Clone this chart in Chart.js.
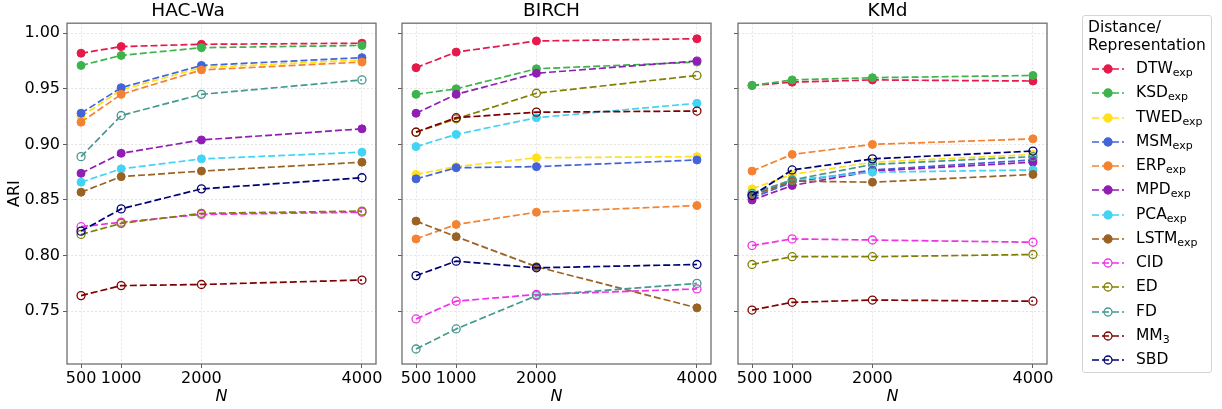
<!DOCTYPE html>
<html>
<head>
<meta charset="utf-8">
<script src="https://cdn.jsdelivr.net/npm/chart.js@4.4.0/dist/chart.umd.min.js"></script>
<style>
    body { margin: 0; background: #fff; width: 1222px; height: 409px; overflow: hidden; font-family: 'DejaVu Sans', sans-serif; }
    canvas { position: absolute; left: 0; top: 0; }
    #legend { position: absolute; left: 1082px; top: 15px; width: 130px; height: 358px; border: 1px solid #d4d4d4; border-radius: 3px; box-sizing: border-box; color: #000; }
    #legend .title { position: absolute; left: 5px; top: 3px; font-size: 15.5px; line-height: 17.5px; white-space: nowrap; }
    #legend .row { position: absolute; left: 0; height: 24px; width: 128px; }
    #legend .row svg { position: absolute; left: 6px; top: 0; }
    #legend .row span { position: absolute; left: 53px; top: 2px; font-size: 15.5px; line-height: 19px; white-space: nowrap; }
    #legend sub { font-size: 11px; vertical-align: -3px; line-height: 0; }
</style>
</head>
<body>
<canvas id="c1" width="1222" height="409"></canvas>
<canvas id="c2" width="1222" height="409"></canvas>
<canvas id="c3" width="1222" height="409"></canvas>
<div id="legend"><div class="title">Distance/<br>Representation</div></div>
<script>
// x values and tick labels
const sizes = [500, 1000, 2000, 4000];
const yTicks = [0.75, 0.80, 0.85, 0.90, 0.95, 1.00];

// series (plot order)
const names = ['DTW', 'KSD', 'TWED', 'MSM', 'ERP', 'MPD', 'PCA', 'LSTM', 'CID', 'ED', 'FD', 'MM', 'SBD'];
const subs = ['exp', 'exp', 'exp', 'exp', 'exp', 'exp', 'exp', 'exp', '', '', '', '3', ''];
const filled = [true, true, true, true, true, true, true, true, false, false, false, false, false];
const colors = ['#e6194b', '#3cb44b', '#ffe119', '#4363d8', '#f58231', '#911eb4', '#42d4f4',
                '#9a6324', '#f032e6', '#808000', '#469990', '#800000', '#000075'];

// ARI per series, N = 500, 1000, 2000, 4000
const hacWa = [
    [0.982, 0.988, 0.990, 0.991],
    [0.971, 0.980, 0.987, 0.989],
    [0.925, 0.949, 0.969, 0.976],
    [0.928, 0.951, 0.971, 0.978],
    [0.920, 0.945, 0.967, 0.974],
    [0.874, 0.892, 0.904, 0.914],
    [0.866, 0.878, 0.887, 0.893],
    [0.857, 0.871, 0.876, 0.884],
    [0.826, 0.830, 0.837, 0.839],
    [0.819, 0.829, 0.838, 0.840],
    [0.889, 0.926, 0.945, 0.958],
    [0.764, 0.773, 0.774, 0.778],
    [0.822, 0.842, 0.860, 0.870]
];
const birch = [
    [0.969, 0.983, 0.993, 0.995],
    [0.945, 0.950, 0.968, 0.974],
    [0.873, 0.880, 0.888, 0.889],
    [0.869, 0.879, 0.880, 0.886],
    [0.815, 0.828, 0.839, 0.845],
    [0.928, 0.945, 0.964, 0.975],
    [0.898, 0.909, 0.924, 0.937],
    [0.831, 0.817, 0.790, 0.753],
    [0.743, 0.759, 0.765, 0.770],
    [0.911, 0.923, 0.946, 0.962],
    [0.716, 0.734, 0.764, 0.775],
    [0.911, 0.924, 0.929, 0.930],
    [0.782, 0.795, 0.789, 0.792]
];
const kmd = [
    [0.953, 0.956, 0.958, 0.957],
    [0.953, 0.958, 0.960, 0.962],
    [0.860, 0.873, 0.884, 0.891],
    [0.852, 0.866, 0.877, 0.886],
    [0.876, 0.891, 0.900, 0.905],
    [0.850, 0.863, 0.876, 0.884],
    [0.855, 0.868, 0.875, 0.877],
    [0.854, 0.867, 0.866, 0.873],
    [0.809, 0.815, 0.814, 0.812],
    [0.792, 0.799, 0.799, 0.801],
    [0.856, 0.868, 0.882, 0.889],
    [0.751, 0.758, 0.760, 0.759],
    [0.854, 0.877, 0.887, 0.894]
];

const FONT = "'DejaVu Sans', sans-serif";
const DASH = [7, 3];

// frame around the plot area (spines)
const framePlugin = {
    id: 'frame',
    afterDatasetsDraw(chart) {
        const a = chart.chartArea;
        const ctx = chart.ctx;
        ctx.save();
        ctx.strokeStyle = '#6f6f6f';
        ctx.lineWidth = 1.3;
        ctx.strokeRect(a.left, a.top, a.right - a.left, a.bottom - a.top);
        ctx.restore();
    }
};

function makePanel(id, title, values, padLeft, padRight, yWidth, showYLabels) {
    const datasets = values.map((vals, i) => ({
        label: names[i] + subs[i],
        data: vals.map((v, j) => ({ x: sizes[j], y: v })),
        borderColor: colors[i],
        borderWidth: 1.7,
        borderDash: DASH,
        pointRadius: 4,
        pointBorderWidth: filled[i] ? 1 : 1.3,
        pointBackgroundColor: filled[i] ? colors[i] : 'rgba(255,255,255,0)',
        pointBorderColor: colors[i],
        tension: 0,
        order: values.length - i
    }));

    return new Chart(document.getElementById(id), {
        type: 'line',
        data: { datasets },
        options: {
            responsive: false,
            animation: false,
            devicePixelRatio: 1,
            layout: { padding: { left: padLeft, right: padRight, top: 0, bottom: 0 } },
            plugins: {
                legend: { display: false },
                tooltip: { enabled: false },
                title: {
                    display: true,
                    text: title,
                    color: '#000',
                    font: { family: FONT, size: 18.5, weight: 'normal' },
                    padding: { top: 0, bottom: 1 }
                }
            },
            scales: {
                x: {
                    type: 'linear',
                    min: 325,
                    max: 4175,
                    afterBuildTicks: s => { s.ticks = sizes.map(v => ({ value: v })); },
                    afterFit: s => { s.height = 45; },
                    grid: {
                        color: 'rgba(0,0,0,0.13)',
                        lineWidth: 0.8,
                        tickColor: '#333',
                        tickLength: 4,
                        tickBorderDash: []
                    },
                    border: { display: false, dash: [2, 2] },
                    ticks: {
                        autoSkip: false,
                        maxRotation: 0,
                        padding: 1,
                        color: '#000',
                        font: { family: FONT, size: 16 },
                        callback: v => String(v)
                    },
                    title: {
                        display: true,
                        text: 'N',
                        color: '#000',
                        font: { family: FONT, size: 16, style: 'italic' },
                        padding: { top: 0, bottom: 3 }
                    }
                },
                y: {
                    min: 0.7025,
                    max: 1.009,
                    afterBuildTicks: s => { s.ticks = yTicks.map(v => ({ value: v })); },
                    afterFit: s => { s.width = yWidth; },
                    grid: {
                        color: 'rgba(0,0,0,0.13)',
                        lineWidth: 0.8,
                        tickColor: '#333',
                        tickLength: 4,
                        tickBorderDash: []
                    },
                    border: { display: false, dash: [2, 2] },
                    ticks: {
                        padding: 3,
                        color: '#000',
                        font: { family: FONT, size: 16 },
                        callback: v => showYLabels ? v.toFixed(2) : ''
                    },
                    title: {
                        display: showYLabels,
                        text: 'ARI',
                        color: '#000',
                        font: { family: FONT, size: 16 },
                        padding: { top: 5, bottom: 0 }
                    }
                }
            }
        },
        plugins: [framePlugin]
    });
}

makePanel('c1', 'HAC-Wa', hacWa, 0, 1222 - 376, 67, true);
makePanel('c2', 'BIRCH', birch, 392, 1222 - 711, 10, false);
makePanel('c3', 'KMd', kmd, 728, 1222 - 1047, 10, false);

// legend with subscripts
const legend = document.getElementById('legend');
names.forEach((n, i) => {
    const row = document.createElement('div');
    row.className = 'row';
    row.style.top = (41 + i * 24.25) + 'px';
    const fill = filled[i] ? colors[i] : 'none';
    row.innerHTML =
        `<svg width="40" height="24"><line x1="3" y1="12" x2="35" y2="12" stroke="${colors[i]}" stroke-width="1.7" stroke-dasharray="7 3"/>` +
        `<circle cx="19" cy="12" r="4" fill="${fill}" stroke="${colors[i]}" stroke-width="1.3"/></svg>` +
        `<span>${n}${subs[i] ? '<sub>' + subs[i] + '</sub>' : ''}</span>`;
    legend.appendChild(row);
});
</script>
</body>
</html>
